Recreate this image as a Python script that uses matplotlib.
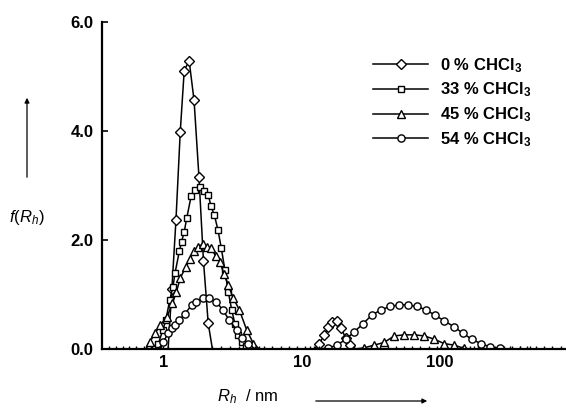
import numpy as np
import matplotlib
matplotlib.use("Agg")
import matplotlib.pyplot as plt
from matplotlib.patches import FancyArrowPatch

plt.rcParams['font.family'] = ['Liberation Sans', 'DejaVu Sans']
plt.rcParams['mathtext.fontset'] = 'custom'
plt.rcParams['mathtext.rm'] = 'Liberation Sans'
plt.rcParams['mathtext.it'] = 'Liberation Sans:italic'
plt.rcParams['mathtext.bf'] = 'Liberation Sans:bold'

# 0 % CHCl3 (diamonds)
r0_x = [0.40, 0.45, 0.50, 0.56, 0.63, 0.71, 0.80, 0.90, 0.98, 1.07, 1.14, 1.22, 1.31, 1.40,
        1.52, 1.65, 1.79, 1.93, 2.09, 2.24, 2.6, 3.0, 3.5, 4.0, 4.6, 5.3, 6.1, 7.0, 8.0,
        9.2, 10.5, 11.5, 12.3, 13.3, 14.5, 15.5, 16.6, 17.8, 19.2, 20.7, 22.3, 24.0, 28,
        32, 37, 42, 48, 55, 63, 72, 83, 95, 110, 125, 145, 165, 190, 220, 250, 290, 330,
        380, 430, 500, 570, 650, 750]
r0_y = [0, 0, 0, 0, 0, 0, 0, 0, 0, 0, 1.11, 2.37, 3.98, 5.11,
        5.29, 4.56, 3.16, 1.62, 0.47, 0, 0, 0, 0, 0, 0, 0, 0, 0, 0,
        0, 0, 0, 0, 0.09, 0.26, 0.40, 0.50, 0.51, 0.39, 0.20, 0.07, 0, 0,
        0, 0, 0, 0, 0, 0, 0, 0, 0, 0, 0, 0, 0, 0, 0, 0, 0, 0,
        0, 0, 0, 0, 0, 0]

# 33 % CHCl3 (squares)
r33_x = [0.80, 0.86, 0.91, 0.98, 1.03, 1.10, 1.16, 1.20, 1.29, 1.34, 1.40, 1.46, 1.57,
         1.68, 1.82, 1.95, 2.09, 2.19, 2.32, 2.46, 2.60, 2.76, 2.92, 3.09, 3.27, 3.46,
         3.67, 3.93, 4.32]
r33_y = [0, 0.02, 0.10, 0.35, 0.53, 0.90, 1.14, 1.39, 1.79, 1.97, 2.15, 2.40, 2.80,
         2.92, 2.98, 2.90, 2.83, 2.62, 2.45, 2.18, 1.85, 1.45, 1.05, 0.72, 0.45, 0.25,
         0.12, 0.06, 0]

# 45 % CHCl3 (triangles)
r45_x = [0.74, 0.79, 0.86, 0.94, 1.05, 1.15, 1.23, 1.31, 1.44, 1.54, 1.66, 1.77, 1.91,
         2.05, 2.20, 2.36, 2.53, 2.72, 2.92, 3.18, 3.51, 3.97, 4.44, 4.9,
         24, 28.1, 33.2, 39.3, 46.7, 55.1, 65.1, 76.9, 90.9, 107, 127, 150, 177]
r45_y = [0, 0.13, 0.29, 0.44, 0.59, 0.84, 1.05, 1.30, 1.51, 1.66, 1.80, 1.87, 1.93,
         1.88, 1.85, 1.71, 1.60, 1.38, 1.17, 0.93, 0.72, 0.35, 0.10, 0,
         0, 0.02, 0.07, 0.12, 0.24, 0.26, 0.26, 0.24, 0.18, 0.10, 0.07, 0.01, 0]

# 54 % CHCl3 (circles)
r54_x = [0.92, 0.99, 1.07, 1.14, 1.20, 1.29, 1.42, 1.59, 1.71, 1.91, 2.10, 2.38, 2.66,
         2.97, 3.36, 3.66, 4.08, 4.56,
         13.3, 15.5, 17.9, 20.8, 23.8, 27.6, 32.0, 37.4, 43.4, 50.4, 58.3, 67.8, 79.2,
         92.0, 107, 126, 146, 170, 197, 230, 270, 320, 380, 450]
r54_y = [0, 0.13, 0.29, 0.38, 0.44, 0.53, 0.65, 0.81, 0.87, 0.94, 0.93, 0.87, 0.72,
         0.53, 0.35, 0.20, 0.10, 0,
         0, 0.02, 0.07, 0.18, 0.31, 0.46, 0.62, 0.72, 0.78, 0.81, 0.81, 0.78, 0.72,
         0.62, 0.52, 0.41, 0.29, 0.18, 0.10, 0.04, 0.01, 0, 0, 0]

labels = ['0 % CHCl$_\\mathbf{3}$', '33 % CHCl$_\\mathbf{3}$',
          '45 % CHCl$_\\mathbf{3}$', '54 % CHCl$_\\mathbf{3}$']
series = [(r0_x, r0_y, 'D', 5.2), (r33_x, r33_y, 's', 4.8),
          (r45_x, r45_y, '^', 5.6), (r54_x, r54_y, 'o', 5.2)]

# zero points on the baseline show only as small upward spikes
spike = [(0, 0), (0, 1)]

fig = plt.figure(figsize=(5.66, 4.15), dpi=100)
ax = fig.add_axes([102 / 566, 66 / 415, 464 / 566, 327 / 415])

handles = []
for (xs, ys, mk, ms), lab in zip(series, labels):
    xs = np.asarray(xs)
    ys = np.asarray(ys)
    ax.plot(xs, ys, color='black', lw=1.1)
    up = ys > 0
    ax.plot(xs[up], ys[up], ls='none', marker=mk, ms=ms,
            mfc='white', mec='black', mew=1.0)
    ax.plot(xs[~up], ys[~up], ls='none', marker=spike, ms=5,
            mec='black', mew=1.0)
    h, = ax.plot([], [], color='black', lw=1.1, marker=mk, ms=ms,
                 mfc='white', mec='black', mew=1.0, label=lab)
    handles.append(h)

ax.set_xscale('log')
ax.set_xlim(0.355, 819)
ax.set_ylim(0, 6)
ax.set_xticks([1, 10, 100])
ax.set_xticklabels(['1', '10', '100'])
ax.xaxis.set_minor_locator(matplotlib.ticker.NullLocator())
ax.set_yticks([0, 2, 4, 6])
ax.set_yticklabels(['0.0', '2.0', '4.0', '6.0'])
for lab in ax.get_xticklabels() + ax.get_yticklabels():
    lab.set_fontweight('bold')
    lab.set_fontsize(12)
ax.tick_params(axis='y', direction='in', length=4, width=1.2, pad=6)
ax.tick_params(axis='x', direction='in', length=0, pad=4)
ax.spines['top'].set_visible(False)
ax.spines['right'].set_visible(False)
ax.spines['left'].set_linewidth(1.6)
ax.spines['bottom'].set_linewidth(1.6)

leg = ax.legend(handles=handles, loc='upper left', bbox_to_anchor=(373 / 566, 1 - 56 / 415),
                bbox_transform=fig.transFigure, frameon=False, numpoints=1,
                handlelength=3.3, handletextpad=0.75, labelspacing=0.36,
                borderpad=0, borderaxespad=0,
                prop={'weight': 'bold', 'size': 12})

# axis titles with arrows
fig.text(27 / 566, 1 - 217 / 415, '$f(R_h)$', ha='center', va='center', fontsize=12)
fig.text(217 / 566, 1 - 397 / 415, '$R_h$  / nm', ha='left', va='center', fontsize=12)
fig.add_artist(FancyArrowPatch((27 / 566, 1 - 180 / 415), (27 / 566, 1 - 95 / 415),
                               transform=fig.transFigure, arrowstyle='-|>',
                               mutation_scale=7, lw=0.9, color='black'))
fig.add_artist(FancyArrowPatch((313 / 566, 1 - 401 / 415), (430 / 566, 1 - 401 / 415),
                               transform=fig.transFigure, arrowstyle='-|>',
                               mutation_scale=7, lw=0.9, color='black'))

fig.savefig('out.png', dpi=100)
